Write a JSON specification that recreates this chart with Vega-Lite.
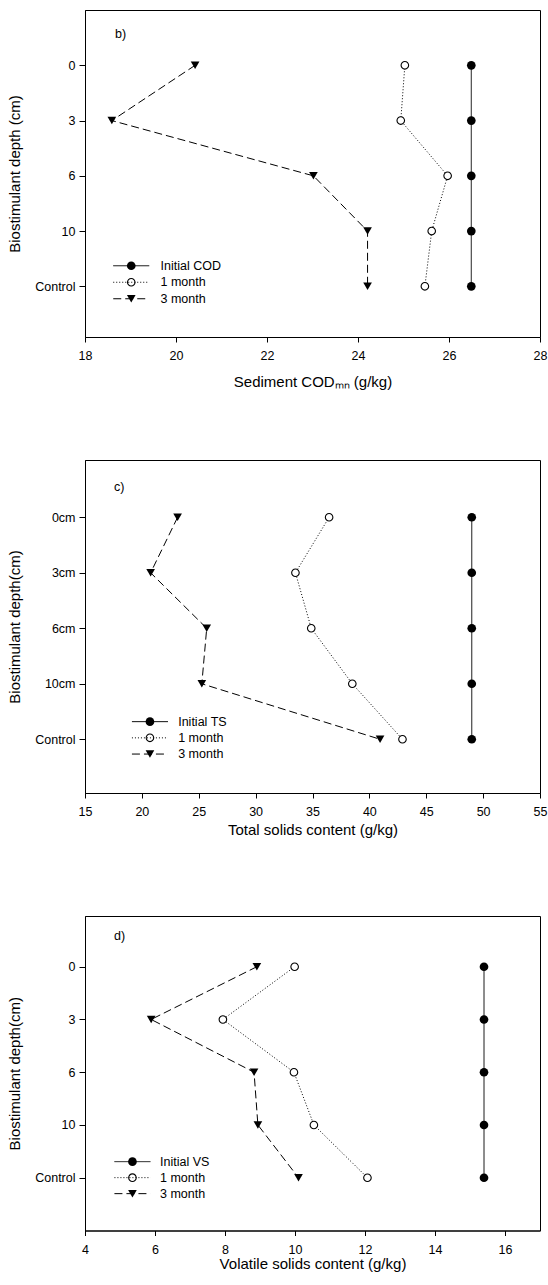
{
  "$schema": "https://vega.github.io/schema/vega-lite/v6.json",
  "padding": {"left": 7, "top": 9, "right": 0, "bottom": 0},
  "bounds": "flush",
  "spacing": 123,
  "datasets": {
    "cod": [
      {"depth": "0", "series": "Initial COD", "value": 26.49},
      {"depth": "3", "series": "Initial COD", "value": 26.49},
      {"depth": "6", "series": "Initial COD", "value": 26.49},
      {"depth": "10", "series": "Initial COD", "value": 26.49},
      {"depth": "Control", "series": "Initial COD", "value": 26.49},
      {"depth": "0", "series": "1 month", "value": 25.03},
      {"depth": "3", "series": "1 month", "value": 24.94},
      {"depth": "6", "series": "1 month", "value": 25.97},
      {"depth": "10", "series": "1 month", "value": 25.62},
      {"depth": "Control", "series": "1 month", "value": 25.47},
      {"depth": "0", "series": "3 month", "value": 20.42},
      {"depth": "3", "series": "3 month", "value": 18.59},
      {"depth": "6", "series": "3 month", "value": 23.02},
      {"depth": "10", "series": "3 month", "value": 24.21},
      {"depth": "Control", "series": "3 month", "value": 24.21}
    ],
    "ts": [
      {"depth": "0cm", "series": "Initial TS", "value": 49.0},
      {"depth": "3cm", "series": "Initial TS", "value": 49.0},
      {"depth": "6cm", "series": "Initial TS", "value": 49.0},
      {"depth": "10cm", "series": "Initial TS", "value": 49.0},
      {"depth": "Control", "series": "Initial TS", "value": 49.0},
      {"depth": "0cm", "series": "1 month", "value": 36.46},
      {"depth": "3cm", "series": "1 month", "value": 33.5},
      {"depth": "6cm", "series": "1 month", "value": 34.89},
      {"depth": "10cm", "series": "1 month", "value": 38.5},
      {"depth": "Control", "series": "1 month", "value": 42.91},
      {"depth": "0cm", "series": "3 month", "value": 23.14},
      {"depth": "3cm", "series": "3 month", "value": 20.77},
      {"depth": "6cm", "series": "3 month", "value": 25.7},
      {"depth": "10cm", "series": "3 month", "value": 25.27},
      {"depth": "Control", "series": "3 month", "value": 40.94}
    ],
    "vs": [
      {"depth": "0", "series": "Initial VS", "value": 15.4},
      {"depth": "3", "series": "Initial VS", "value": 15.4},
      {"depth": "6", "series": "Initial VS", "value": 15.4},
      {"depth": "10", "series": "Initial VS", "value": 15.4},
      {"depth": "Control", "series": "Initial VS", "value": 15.4},
      {"depth": "0", "series": "1 month", "value": 9.99},
      {"depth": "3", "series": "1 month", "value": 7.94},
      {"depth": "6", "series": "1 month", "value": 9.97},
      {"depth": "10", "series": "1 month", "value": 10.54},
      {"depth": "Control", "series": "1 month", "value": 12.07},
      {"depth": "0", "series": "3 month", "value": 8.91},
      {"depth": "3", "series": "3 month", "value": 5.89},
      {"depth": "6", "series": "3 month", "value": 8.83},
      {"depth": "10", "series": "3 month", "value": 8.94},
      {"depth": "Control", "series": "3 month", "value": 10.1}
    ]
  },
  "vconcat": [
    {
      "width": 455,
      "height": 327,
      "data": {"name": "cod"},
      "title": {"text": "b)", "anchor": "start", "frame": "group", "dx": 30, "offset": -36, "baseline": "middle", "fontSize": 12.5, "fontWeight": "normal"},
      "encoding": {
        "y": {"field": "depth", "type": "nominal", "sort": ["0", "3", "6", "10", "Control"], "scale": {"type": "point", "padding": 0.959, "align": 0.522}, "axis": {"title": "Biostimulant depth (cm)"}},
        "x": {"field": "value", "type": "quantitative", "scale": {"domain": [18, 28], "nice": false, "zero": false}, "axis": {"values": [18, 20, 22, 24, 26, 28], "title": "Sediment CODₘₙ (g/kg)", "titlePadding": 12}}
      },
      "layer": [
        {
          "mark": {"type": "line", "color": "black", "strokeWidth": 1},
          "encoding": {
            "strokeDash": {"field": "series", "type": "nominal", "sort": ["Initial COD", "1 month", "3 month"], "scale": {"range": [[1, 0], [1, 2], [8, 4]]},
              "legend": {"orient": "none", "legendX": 40, "legendY": 249.5, "title": null, "symbolType": "M-4.16,0H4.16", "symbolSize": 75, "symbolStrokeWidth": 1, "symbolStrokeColor": "black", "symbolFillColor": "transparent", "labelFontSize": 12.5, "labelOffset": 23, "rowPadding": 3.5, "padding": 0}}
          }
        },
        {
          "transform": [{"filter": "datum.series == '1 month'"}],
          "mark": {"type": "point", "shape": "circle", "filled": true, "color": "white", "size": 60, "opacity": 1}
        },
        {
          "mark": {"type": "point", "filled": true, "color": "black", "size": 75, "opacity": 1},
          "encoding": {
            "shape": {"field": "series", "type": "nominal", "scale": {"domain": ["Initial COD", "1 month", "3 month"], "range": ["circle", "M1,0A1,1,0,1,1,-1,0A1,1,0,1,1,1,0ZM0.745,0A0.745,0.745,0,1,0,-0.745,0A0.745,0.745,0,1,0,0.745,0Z", "triangle-down"]},
              "legend": {"orient": "none", "legendX": 40, "legendY": 249.5, "title": null, "symbolSize": 75, "symbolStrokeWidth": 0, "symbolFillColor": "black", "labelFontSize": 12.5, "labelOffset": 23, "labelColor": "transparent", "rowPadding": 3.5, "padding": 0}}
          }
        }
      ]
    },
    {
      "width": 455,
      "height": 333,
      "data": {"name": "ts"},
      "title": {"text": "c)", "anchor": "start", "frame": "group", "dx": 29, "offset": -39, "baseline": "middle", "fontSize": 12.5, "fontWeight": "normal"},
      "encoding": {
        "y": {"field": "depth", "type": "nominal", "sort": ["0cm", "3cm", "6cm", "10cm", "Control"], "scale": {"type": "point", "padding": 1.027, "align": 0.516}, "axis": {"title": "Biostimulant depth(cm)"}},
        "x": {"field": "value", "type": "quantitative", "scale": {"domain": [15, 55], "nice": false, "zero": false}, "axis": {"values": [15, 20, 25, 30, 35, 40, 45, 50, 55], "title": "Total solids content (g/kg)", "titlePadding": 4}}
      },
      "layer": [
        {
          "mark": {"type": "line", "color": "black", "strokeWidth": 1},
          "encoding": {
            "strokeDash": {"field": "series", "type": "nominal", "sort": ["Initial TS", "1 month", "3 month"], "scale": {"range": [[1, 0], [1, 2], [8, 4]]},
              "legend": {"orient": "none", "legendX": 58.7, "legendY": 255.4, "title": null, "symbolType": "M-4.16,0H4.16", "symbolSize": 75, "symbolStrokeWidth": 1, "symbolStrokeColor": "black", "symbolFillColor": "transparent", "labelFontSize": 12.5, "labelOffset": 22, "rowPadding": 3.2, "padding": 0}}
          }
        },
        {
          "transform": [{"filter": "datum.series == '1 month'"}],
          "mark": {"type": "point", "shape": "circle", "filled": true, "color": "white", "size": 60, "opacity": 1}
        },
        {
          "mark": {"type": "point", "filled": true, "color": "black", "size": 75, "opacity": 1},
          "encoding": {
            "shape": {"field": "series", "type": "nominal", "scale": {"domain": ["Initial TS", "1 month", "3 month"], "range": ["circle", "M1,0A1,1,0,1,1,-1,0A1,1,0,1,1,1,0ZM0.745,0A0.745,0.745,0,1,0,-0.745,0A0.745,0.745,0,1,0,0.745,0Z", "triangle-down"]},
              "legend": {"orient": "none", "legendX": 58.7, "legendY": 255.4, "title": null, "symbolSize": 75, "symbolStrokeWidth": 0, "symbolFillColor": "black", "labelFontSize": 12.5, "labelOffset": 22, "labelColor": "transparent", "rowPadding": 3.2, "padding": 0}}
          }
        }
      ]
    },
    {
      "width": 455,
      "height": 314.5,
      "data": {"name": "vs"},
      "title": {"text": "d)", "anchor": "start", "frame": "group", "dx": 29, "offset": -32, "baseline": "middle", "fontSize": 12.5, "fontWeight": "normal"},
      "encoding": {
        "y": {"field": "depth", "type": "nominal", "sort": ["0", "3", "6", "10", "Control"], "scale": {"type": "point", "padding": 0.981, "align": 0.49}, "axis": {"title": "Biostimulant depth(cm)"}},
        "x": {"field": "value", "type": "quantitative", "scale": {"domain": [4, 17], "nice": false, "zero": false}, "axis": {"values": [4, 6, 8, 10, 12, 14, 16], "title": "Volatile solids content (g/kg)", "titlePadding": 1}}
      },
      "layer": [
        {
          "mark": {"type": "line", "color": "black", "strokeWidth": 1},
          "encoding": {
            "strokeDash": {"field": "series", "type": "nominal", "sort": ["Initial VS", "1 month", "3 month"], "scale": {"range": [[1, 0], [1, 2], [8, 4]]},
              "legend": {"orient": "none", "legendX": 41.2, "legendY": 239.4, "title": null, "symbolType": "M-4.16,0H4.16", "symbolSize": 75, "symbolStrokeWidth": 1, "symbolStrokeColor": "black", "symbolFillColor": "transparent", "labelFontSize": 12.5, "labelOffset": 21.3, "rowPadding": 3, "padding": 0}}
          }
        },
        {
          "transform": [{"filter": "datum.series == '1 month'"}],
          "mark": {"type": "point", "shape": "circle", "filled": true, "color": "white", "size": 60, "opacity": 1}
        },
        {
          "mark": {"type": "point", "filled": true, "color": "black", "size": 75, "opacity": 1},
          "encoding": {
            "shape": {"field": "series", "type": "nominal", "scale": {"domain": ["Initial VS", "1 month", "3 month"], "range": ["circle", "M1,0A1,1,0,1,1,-1,0A1,1,0,1,1,1,0ZM0.745,0A0.745,0.745,0,1,0,-0.745,0A0.745,0.745,0,1,0,0.745,0Z", "triangle-down"]},
              "legend": {"orient": "none", "legendX": 41.2, "legendY": 239.4, "title": null, "symbolSize": 75, "symbolStrokeWidth": 0, "symbolFillColor": "black", "labelFontSize": 12.5, "labelOffset": 21.3, "labelColor": "transparent", "rowPadding": 3, "padding": 0}}
          }
        }
      ]
    }
  ],
  "resolve": {
    "scale": {"shape": "independent", "strokeDash": "independent"},
    "legend": {"shape": "independent", "strokeDash": "independent"}
  },
  "config": {
    "font": "Liberation Sans",
    "background": "white",
    "view": {"stroke": "black", "strokeWidth": 1},
    "title": {"color": "black", "font": "Liberation Sans"},
    "axis": {"domainColor": "black", "tickColor": "black", "labelColor": "black", "titleColor": "black", "labelFontSize": 12.5, "titleFontSize": 15, "titleFontWeight": "normal", "grid": false, "labelFont": "Liberation Sans", "titleFont": "Liberation Sans"},
    "axisX": {"tickSize": 5, "labelPadding": 7.5, "labelFlush": false},
    "axisY": {"tickSize": 6, "labelPadding": 4, "titlePadding": 12},
    "legend": {"labelFont": "Liberation Sans", "labelColor": "black"}
  }
}
